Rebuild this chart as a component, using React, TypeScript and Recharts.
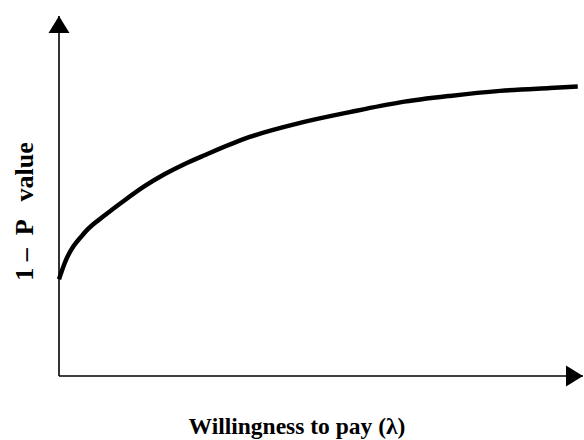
import { LineChart, Line, XAxis, YAxis, ReferenceLine, Label } from 'recharts'

// willingness to pay (λ) on x, 1 - P value on y (0–100 scale)
const lambda = [0, 1.1, 5, 8.8, 12.6, 16.4, 20.2, 24, 27.9, 36.4, 46, 55.5, 65.1, 74.6, 84.2, 93.7, 99]
const oneMinusP = [26.9, 31.4, 40, 44.7, 48.9, 52.8, 56.1, 58.9, 61.4, 66.4, 70.3, 73.3, 76, 77.8, 79.2, 80, 80.4]

const X_LABEL = 'Willingness to pay (λ)'
const Y_LABEL = '1 –  P   value'

const FONT = 'Liberation Serif, Times New Roman, serif'

const data = lambda.map((x, i) => ({ x, y: oneMinusP[i] }))

// axis line with a filled arrow head at its far end
function ArrowAxis(props: any) {
  const { x1, y1, x2, y2 } = props
  const horizontal = Math.abs(y2 - y1) < 1
  const len = 17
  const half = 10.5
  const head = horizontal
    ? `${x2},${y2} ${x2 - len},${y2 - half} ${x2 - len},${y2 + half}`
    : `${x2},${y2} ${x2 - half},${y2 + len} ${x2 + half},${y2 + len}`
  return (
    <g>
      <line x1={x1} y1={y1} x2={x2} y2={y2} stroke="#000" strokeWidth={1.6} />
      <polygon points={head} fill="#000" />
    </g>
  )
}

function XTitle(props: any) {
  const { viewBox } = props
  return (
    <text x={viewBox.x + viewBox.width / 2 - 24} y={434} textAnchor="middle"
      fontFamily={FONT} fontWeight="bold" fontSize={23.5} fill="#000">
      {X_LABEL}
    </text>
  )
}

function YTitle(props: any) {
  const { viewBox } = props
  const cx = 33
  const cy = viewBox.y + viewBox.height / 2 + 15.5
  return (
    <text x={cx} y={cy} transform={`rotate(-90 ${cx} ${cy})`} textAnchor="middle"
      fontFamily={FONT} fontWeight="bold" fontSize={26} fill="#000" style={{ whiteSpace: 'pre' }}>
      {Y_LABEL}
    </text>
  )
}

export default function App() {
  return (
    <div style={{ position: 'absolute', left: 0, top: 0, width: 584, height: 440, background: '#fff' }}>
      <LineChart width={584} height={440} data={data} margin={{ top: 16, right: 1, left: 0, bottom: 0 }}>
        <XAxis type="number" dataKey="x" domain={[0, 100]} tick={false} axisLine={false} tickLine={false} height={64}>
          <Label content={<XTitle />} />
        </XAxis>
        <YAxis type="number" domain={[0, 100]} tick={false} axisLine={false} tickLine={false} width={59}>
          <Label content={<YTitle />} />
        </YAxis>
        <ReferenceLine segment={[{ x: 0, y: 0 }, { x: 100, y: 0 }]} shape={<ArrowAxis />} />
        <ReferenceLine segment={[{ x: 0, y: 0 }, { x: 0, y: 100 }]} shape={<ArrowAxis />} />
        <Line type="monotone" dataKey="y" stroke="#000" strokeWidth={4.5} dot={false} isAnimationActive={false} />
      </LineChart>
    </div>
  )
}
